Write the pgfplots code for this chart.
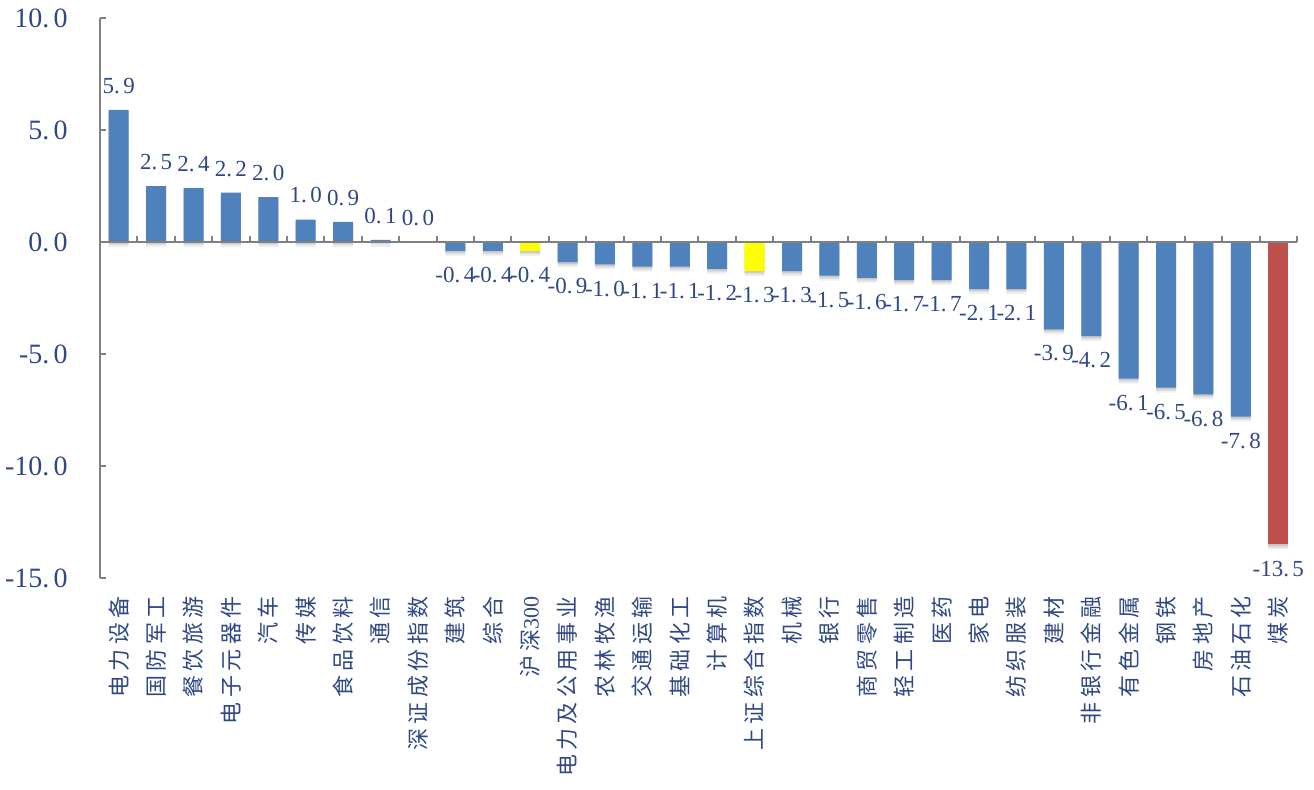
\documentclass[border=0pt]{standalone}
\usepackage{fontspec}
\setmainfont{Liberation Serif}
\newfontfamily\cjk[LetterSpace=20]{Noto Sans CJK SC}
\usepackage{pgfplots}
\usepackage{pgfplotstable}
\usetikzlibrary{shadows}
\pgfplotsset{compat=1.18}

\definecolor{barblue}{RGB}{79,129,189}
\definecolor{baryellow}{RGB}{255,255,0}
\definecolor{barred}{RGB}{192,80,77}
\definecolor{navy}{RGB}{47,72,132}
\definecolor{axisgray}{RGB}{128,128,128}

% weekly change by sector (%)
\pgfplotstableread{
idx val
0 5.9
1 2.5
2 2.4
3 2.2
4 2.0
5 1.0
6 0.9
7 0.1
8 0.0
9 -0.4
10 -0.4
12 -0.9
13 -1.0
14 -1.1
15 -1.1
16 -1.2
18 -1.3
19 -1.5
20 -1.6
21 -1.7
22 -1.7
23 -2.1
24 -2.1
25 -3.9
26 -4.2
27 -6.1
28 -6.5
29 -6.8
30 -7.8
}\sectors
% benchmark indices
\pgfplotstableread{
idx val
11 -0.4
17 -1.3
}\benchmarks
% worst sector
\pgfplotstableread{
idx val
31 -13.5
}\worst

\tikzset{
  softshadow/.style={
    general shadow={shadow xshift=0pt, shadow yshift=-2.5pt, fill=black, opacity=0.06},
    general shadow={shadow xshift=0pt, shadow yshift=-1.6pt, fill=black, opacity=0.08},
    general shadow={shadow xshift=0pt, shadow yshift=-0.8pt, fill=black, opacity=0.10},
  },
  sectorbar/.style={ybar, bar width=10pt, bar shift=0pt, draw=none, softshadow},
}

\begin{document}
\begin{tikzpicture}
\useasboundingbox (-50pt,-105.5pt) rectangle (607pt,289pt);
\begin{axis}[
  scale only axis, width=598.5pt, height=280pt,
  xmin=-0.5, xmax=31.5, ymin=-15, ymax=10,
  axis y line*=left, axis x line*=bottom,
  x axis line style={draw=none},
  y axis line style={axisgray, line width=1pt},
  ytick={-15,-10,...,10},
  ytick style={axisgray, line width=1pt},
  major tick length=3pt,
  xtick={0,...,31}, xtick style={draw=none},
  xticklabels={电力设备,国防军工,餐饮旅游,电子元器件,汽车,传媒,食品饮料,通信,深证成份指数,建筑,综合,沪深{\rmfamily 300},电力及公用事业,农林牧渔,交通运输,基础化工,计算机,上证综合指数,机械,银行,商贸零售,轻工制造,医药,家电,纺织服装,建材,非银行金融,有色金属,钢铁,房地产,石油石化,煤炭},
  xticklabel style={font=\cjk\fontsize{11}{11}\selectfont, rotate=90, anchor=east, inner sep=0pt, text=navy},
  xticklabel shift=9pt,
  yticklabel style={font=\fontsize{14}{14}\selectfont, text=navy, inner sep=0pt, xshift=-16pt},
  /pgf/number format/.cd, fixed, fixed zerofill, precision=1, dec sep={.\kern0.15em}, assume math mode=true,
  /pgfplots/.cd,
  nodes near coords,
  every node near coord/.append style={font=\fontsize{11.5}{11.5}\selectfont, text=navy, inner sep=8pt},
  clip=false,
]
\addplot[sectorbar, fill=barblue] table[x=idx, y=val] {\sectors};
\addplot[sectorbar, fill=baryellow] table[x=idx, y=val] {\benchmarks};
\addplot[sectorbar, fill=barred] table[x=idx, y=val] {\worst};
\draw[axisgray, line width=1pt] (axis cs:-0.5,0) -- (axis cs:31.5,0);
\pgfplotsinvokeforeach{-0.5,0.5,...,31.5}{
  \draw[axisgray, line width=1pt] (axis cs:#1,0) -- ++(0pt,3pt);
}
\end{axis}
\end{tikzpicture}
\end{document}
